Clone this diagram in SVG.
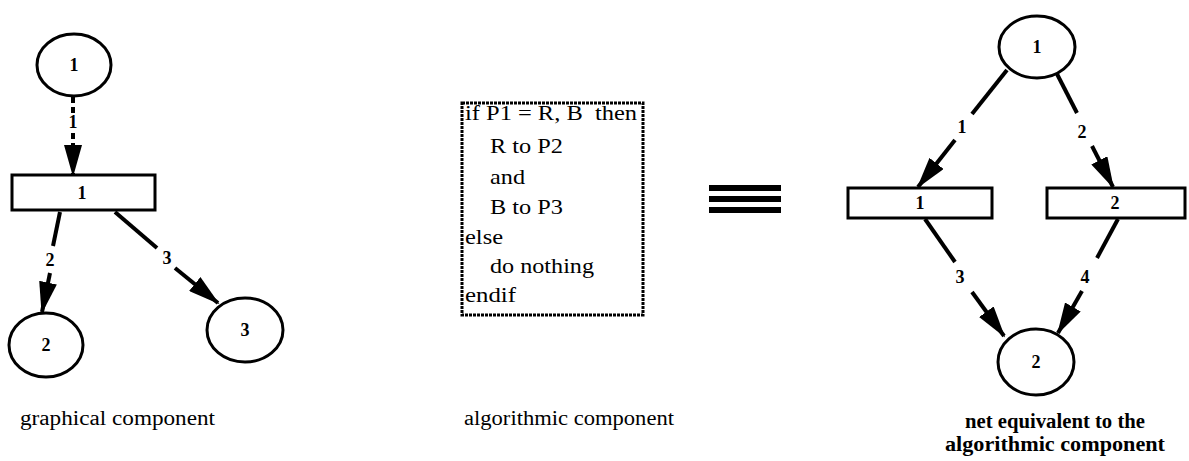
<svg xmlns="http://www.w3.org/2000/svg" width="1189" height="461" viewBox="0 0 1189 461">
<style>
.node{fill:#fff;stroke:#000;stroke-width:3}
.lbl{font-family:"Liberation Serif",serif;font-size:18px;font-weight:bold;text-anchor:middle;fill:#000}
.arc{stroke:#000;stroke-width:4;fill:none}
.dash{stroke-dasharray:6,4}
.code{font-family:"Liberation Serif",serif;font-size:22px;fill:#000}
.cap{font-family:"Liberation Serif",serif;font-size:20px;fill:#000}
.capb{font-family:"Liberation Serif",serif;font-size:20px;font-weight:bold;fill:#000;text-anchor:middle}
</style>
<defs>
<marker id="ah" markerUnits="userSpaceOnUse" markerWidth="32" markerHeight="18" refX="30" refY="9" orient="auto">
<path d="M0,0 L32,9 L0,18 z" fill="#000"/>
</marker>
</defs>
<rect width="1189" height="461" fill="#fff"/>
<g id="connectors">
<line class="arc dash" x1="73" y1="97" x2="73" y2="113"/>
<line class="arc dash" x1="73" y1="133" x2="73" y2="175" marker-end="url(#ah)"/>
<line class="arc" x1="60" y1="212" x2="53" y2="246"/>
<line class="arc" x1="50" y1="273" x2="42" y2="312" marker-end="url(#ah)"/>
<line class="arc" x1="115" y1="212" x2="157" y2="248"/>
<line class="arc" x1="175" y1="268" x2="218" y2="303" marker-end="url(#ah)"/>
<line class="arc" x1="1007" y1="70" x2="972" y2="114"/>
<line class="arc" x1="955" y1="140" x2="918" y2="187" marker-end="url(#ah)"/>
<line class="arc" x1="1057" y1="74" x2="1077" y2="113"/>
<line class="arc" x1="1092" y1="146" x2="1113" y2="187" marker-end="url(#ah)"/>
<line class="arc" x1="925" y1="219" x2="955" y2="262"/>
<line class="arc" x1="972" y1="292" x2="1004" y2="336" marker-end="url(#ah)"/>
<line class="arc" x1="1118" y1="219" x2="1097" y2="258"/>
<line class="arc" x1="1082" y1="291" x2="1058" y2="333" marker-end="url(#ah)"/>
<text class="lbl" x="73" y="128">1</text>
<text class="lbl" x="50" y="266">2</text>
<text class="lbl" x="167" y="264">3</text>
<text class="lbl" x="962" y="133">1</text>
<text class="lbl" x="1082" y="138">2</text>
<text class="lbl" x="960" y="283">3</text>
<text class="lbl" x="1085" y="283">4</text>
</g>
<g id="g-place1"><ellipse class="node" cx="74" cy="65" rx="37" ry="31"/><text class="lbl" x="74" y="71">1</text></g>
<g id="g-trans1"><rect class="node" x="12" y="175" width="143" height="35"/><text class="lbl" x="82" y="199">1</text></g>
<g id="g-place2"><ellipse class="node" cx="46" cy="345" rx="37" ry="32"/><text class="lbl" x="46" y="351">2</text></g>
<g id="g-place3"><ellipse class="node" cx="245" cy="330" rx="38" ry="32"/><text class="lbl" x="245" y="336">3</text></g>
<text class="cap" x="20" y="425" textLength="195" lengthAdjust="spacingAndGlyphs">graphical component</text>
<g id="algo">
<rect x="462" y="103" width="181" height="212" fill="#fff" stroke="#000" stroke-width="3" stroke-dasharray="3,1"/>
<text class="code" x="465" y="120" xml:space="preserve" textLength="172" lengthAdjust="spacingAndGlyphs">if P1 = R, B  then</text>
<text class="code" x="490" y="153" textLength="73" lengthAdjust="spacingAndGlyphs">R to P2</text>
<text class="code" x="490" y="184" textLength="35" lengthAdjust="spacingAndGlyphs">and</text>
<text class="code" x="490" y="214" textLength="73" lengthAdjust="spacingAndGlyphs">B to P3</text>
<text class="code" x="465" y="244" textLength="38" lengthAdjust="spacingAndGlyphs">else</text>
<text class="code" x="490" y="273" textLength="104" lengthAdjust="spacingAndGlyphs">do nothing</text>
<text class="code" x="465" y="302" textLength="51" lengthAdjust="spacingAndGlyphs">endif</text>
</g>
<text class="cap" x="464" y="425" textLength="210" lengthAdjust="spacingAndGlyphs">algorithmic component</text>
<g id="equiv">
<rect x="709" y="185" width="72" height="6" fill="#000"/>
<rect x="709" y="196" width="72" height="6" fill="#000"/>
<rect x="709" y="207" width="72" height="6" fill="#000"/>
</g>
<g id="r-place1"><ellipse class="node" cx="1037" cy="47" rx="38" ry="31"/><text class="lbl" x="1037" y="53">1</text></g>
<g id="r-trans1"><rect class="node" x="848" y="188" width="144" height="30"/><text class="lbl" x="920" y="209">1</text></g>
<g id="r-trans2"><rect class="node" x="1047" y="188" width="138" height="30"/><text class="lbl" x="1115" y="209">2</text></g>
<g id="r-place2"><ellipse class="node" cx="1036" cy="362" rx="38" ry="33"/><text class="lbl" x="1036" y="368">2</text></g>
<text class="capb" x="1055" y="428" textLength="180" lengthAdjust="spacingAndGlyphs">net equivalent to the</text>
<text class="capb" x="1055" y="451" textLength="220" lengthAdjust="spacingAndGlyphs">algorithmic component</text>
</svg>
